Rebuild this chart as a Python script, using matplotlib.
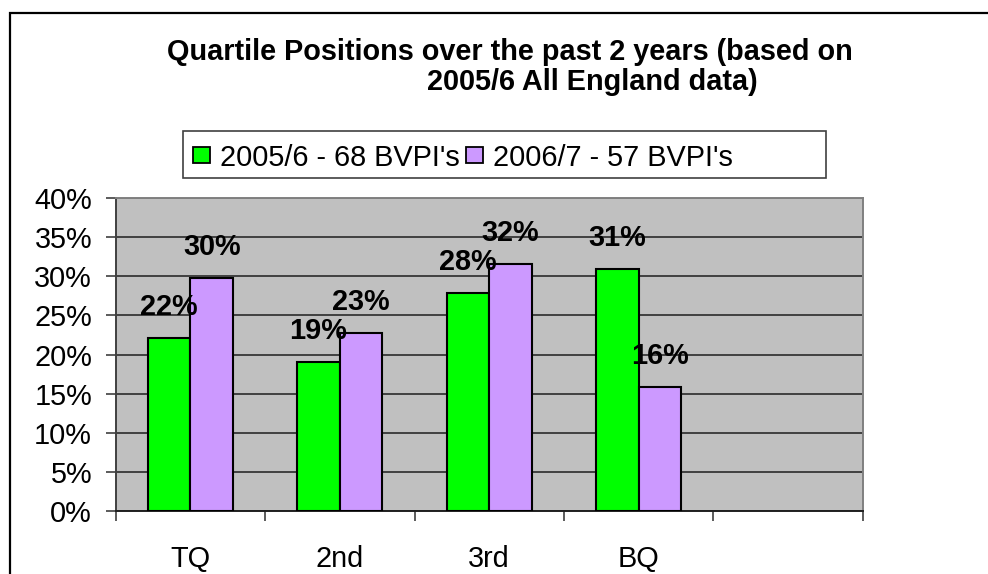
import matplotlib
matplotlib.use("Agg")
import matplotlib.pyplot as plt
import numpy as np
from matplotlib.patches import Rectangle

plt.rcParams['font.family'] = ['Liberation Sans', 'DejaVu Sans']

categories = ["TQ", "2nd", "3rd", "BQ", ""]
series_names = ["2005/6 - 68 BVPI's", "2006/7 - 57 BVPI's"]
values_0506 = [22.1, 19.1, 27.9, 30.9]
values_0607 = [29.8, 22.8, 31.6, 15.8]
labels_0506 = ["22%", "19%", "28%", "31%"]
labels_0607 = ["30%", "23%", "32%", "16%"]
colors = ["#00FF00", "#CC99FF"]
yticks = [0, 5, 10, 15, 20, 25, 30, 35, 40]

FS = 20.8
W, H = 988, 574
dpi = 100
fig = plt.figure(figsize=(W / dpi, H / dpi), dpi=dpi)

def fx(px):
    return px / W

def fy(py):
    return 1 - py / H

# outer chart border
fig.patches.append(Rectangle((fx(9.5), fy(700)), fx(1200), fy(12.5) - fy(700),
                             transform=fig.transFigure, fill=False,
                             edgecolor="black", linewidth=1.6))

ax = fig.add_axes([fx(115.7), fy(510.7), fx(862.7) - fx(115.7), fy(198.3) - fy(510.7)])
ax.set_facecolor("#C0C0C0")

n = len(categories)
w = 1 / 3.5
centers = np.arange(len(values_0506)) + 0.5
b1 = ax.bar(centers - w / 2, values_0506, width=w, color=colors[0],
            edgecolor="black", linewidth=1.5, zorder=3, label=series_names[0])
b2 = ax.bar(centers + w / 2, values_0607, width=w, color=colors[1],
            edgecolor="black", linewidth=1.5, zorder=3, label=series_names[1])

for bars, labs in ((b1, labels_0506), (b2, labels_0607)):
    for r, lab in zip(bars, labs):
        ax.annotate(lab, (r.get_x() + r.get_width() / 2, r.get_height()),
                    xytext=(0, 31), textcoords="offset pixels",
                    ha="center", va="center", fontsize=FS, fontweight="bold",
                    zorder=5)

ax.set_xlim(0, n)
ax.set_ylim(0, 40)
ax.set_yticks(yticks)
ax.set_yticklabels([f"{v}%" for v in yticks], fontsize=FS)
ax.yaxis.grid(True, color="#404040", linewidth=1.4, zorder=1)
ax.set_axisbelow(True)

ax.set_xticks(np.arange(n + 1))
ax.set_xticklabels([])
ax.set_xticks(np.arange(n) + 0.5, minor=True)
ax.set_xticklabels(categories, minor=True, fontsize=FS)
ax.tick_params(axis="x", which="minor", length=0, pad=25)
ax.tick_params(axis="x", which="major", length=7, width=1.2, color="#404040", direction="out")
ax.tick_params(axis="y", length=7, width=1.2, color="#404040", direction="out", pad=10)

ax.spines["top"].set_color("#808080")
ax.spines["right"].set_color("#808080")
ax.spines["left"].set_color("#404040")
ax.spines["bottom"].set_color("#202020")
for s in ax.spines.values():
    s.set_linewidth(1.4)

# title
fig.text(fx(510), fy(59.5), "Quartile Positions over the past 2 years (based on",
         ha="center", va="baseline", fontsize=FS, fontweight="bold")
fig.text(fx(592.5), fy(90.5), "2005/6 All England data)",
         ha="center", va="baseline", fontsize=FS, fontweight="bold")

# legend
fig.patches.append(Rectangle((fx(183.3), fy(178.3)), fx(826) - fx(183.3), fy(130.7) - fy(178.3),
                             transform=fig.transFigure, facecolor="white",
                             edgecolor="#404040", linewidth=1.2))
leg_marker_x = [193.3, 466]
leg_text_x = [220, 493]
for mx, tx, c, name in zip(leg_marker_x, leg_text_x, colors, series_names):
    fig.patches.append(Rectangle((fx(mx), fy(163.3)), fx(16.5), fy(147.3) - fy(163.3),
                                 transform=fig.transFigure, facecolor=c,
                                 edgecolor="black", linewidth=1.3))
    fig.text(fx(tx), fy(165.7), name, ha="left", va="baseline", fontsize=FS)

fig.savefig("out.png", dpi=dpi)
